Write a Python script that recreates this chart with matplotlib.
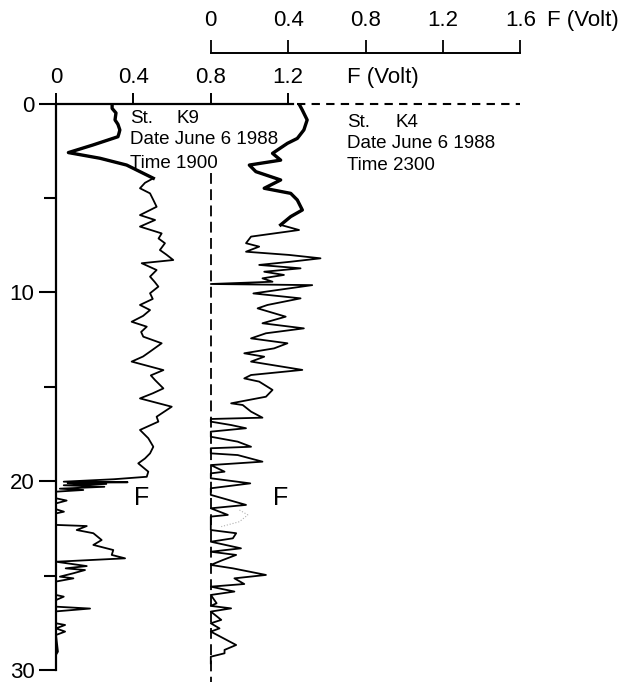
import matplotlib
matplotlib.use("Agg")
import matplotlib.pyplot as plt

plt.rcParams['font.family'] = ['Liberation Sans', 'DejaVu Sans']

# Station K9 profile (depth in m, fluorescence in volt)
k9_depth = [0.1, 0.26, 0.5, 0.87, 1.1, 1.4, 1.6, 1.76, 2.2, 2.6,
            2.9, 3.26, 3.61, 3.96, 4.2, 4.49, 4.76, 5.11, 5.47, 5.91,
            6.17, 6.52, 6.88, 7.15, 7.4, 7.76, 8.0, 8.29, 8.46, 8.82,
            9.17, 9.45, 9.7, 10.05, 10.35, 10.67, 10.94, 11.25, 11.56, 11.82,
            12.1, 12.35, 12.7, 13.14, 13.4, 13.67, 14.12, 14.4, 14.65, 15.09,
            15.35, 15.62, 16.06, 16.59, 16.85, 17.29, 17.73, 18.18, 18.53, 18.8,
            19.06, 19.5, 19.77, 19.9, 20.03, 20.06, 20.1, 20.15, 20.22, 20.3,
            20.4, 20.47, 20.56, 20.91, 21.03, 21.18, 21.49, 21.62, 21.71, 22.32,
            22.38, 22.59, 22.76, 23.12, 23.38, 23.65, 23.91, 24.09, 24.27, 24.5,
            24.62, 24.71, 24.88, 25.06, 25.15, 25.32, 26.03, 26.12, 26.3, 26.65,
            26.75, 26.9, 27.53, 27.62, 27.8, 27.97, 28.15, 29.03, 29.2, 29.9]
k9_f = [0.29, 0.29, 0.31, 0.305, 0.32, 0.33, 0.325, 0.32, 0.19, 0.064,
        0.227, 0.365, 0.434, 0.503, 0.46, 0.434, 0.486, 0.503, 0.52, 0.434,
        0.512, 0.434, 0.546, 0.53, 0.563, 0.537, 0.57, 0.606, 0.443, 0.52,
        0.486, 0.51, 0.529, 0.486, 0.5, 0.434, 0.486, 0.45, 0.391, 0.469,
        0.44, 0.451, 0.546, 0.486, 0.45, 0.391, 0.555, 0.49, 0.512, 0.555,
        0.5, 0.434, 0.598, 0.52, 0.529, 0.434, 0.477, 0.503, 0.486, 0.46,
        0.425, 0.477, 0.469, 0.30, 0.04, 0.37, 0.06, 0.26, 0.04, 0.25,
        0.02, 0.141, 0.0, 0.0, 0.055, 0.0, 0.0, 0.041, 0.0, 0.0,
        0.159, 0.107, 0.193, 0.236, 0.193, 0.296, 0.288, 0.357, 0.0, 0.159,
        0.05, 0.15, 0.09, 0.02, 0.09, 0.0, 0.0, 0.04, 0.0, 0.0,
        0.176, 0.0, 0.0, 0.047, 0.0, 0.047, 0.0, 0.01, 0.0, 0.0]

# Station K4 profile, read against the upper scale
k4_depth = [0.1, 0.35, 0.87, 1.4, 1.85, 2.11, 2.64, 3.0, 3.26, 3.61,
            4.05, 4.49, 4.76, 5.11, 5.64, 5.99, 6.43, 6.7, 7.05, 7.4,
            7.58, 7.85, 8.02, 8.2, 8.38, 8.55, 8.73, 8.91, 9.08, 9.26,
            9.44, 9.56, 9.62, 9.88, 10.06, 10.32, 10.67, 10.85, 11.29, 11.64,
            11.91, 12.17, 12.44, 12.7, 12.97, 13.23, 13.41, 13.67, 14.11, 14.38,
            14.56, 14.73, 15.17, 15.53, 15.88, 15.97, 16.32, 16.64, 16.71, 16.85,
            17.03, 17.2, 17.38, 17.65, 17.91, 18.18, 18.26, 18.53, 18.62, 18.97,
            19.15, 19.5, 19.59, 19.85, 20.12, 20.38, 20.73, 21.26, 21.44, 21.79,
            21.88, 22.59, 22.76, 23.03, 23.21, 23.56, 23.74, 23.91, 24.18, 24.44,
            24.62, 24.97, 25.15, 25.45, 25.59, 25.85, 26.03, 26.47, 26.61, 26.74,
            26.91, 27.35, 27.53, 27.8, 27.97, 28.68, 28.94, 29.12, 29.3, 29.65]
k4_f = [0.46, 0.473, 0.498, 0.481, 0.447, 0.396, 0.319, 0.361, 0.199, 0.233,
        0.361, 0.276, 0.413, 0.447, 0.473, 0.413, 0.361, 0.456, 0.208, 0.182,
        0.25, 0.182, 0.404, 0.567, 0.413, 0.25, 0.464, 0.276, 0.378, 0.267,
        0.319, 0.0, 0.524, 0.344, 0.22, 0.464, 0.293, 0.242, 0.387, 0.267,
        0.481, 0.285, 0.208, 0.396, 0.327, 0.173, 0.276, 0.208, 0.473, 0.208,
        0.173, 0.25, 0.319, 0.285, 0.105, 0.165, 0.208, 0.267, 0.0, 0.0,
        0.105, 0.182, 0.0, 0.0, 0.139, 0.208, 0.0, 0.0, 0.139, 0.267,
        0.0, 0.071, 0.0, 0.0, 0.204, 0.0, 0.0, 0.182, 0.0, 0.088,
        0.0, 0.0, 0.131, 0.114, 0.0, 0.156, 0.0, 0.131, 0.062, 0.0,
        0.114, 0.285, 0.122, 0.173, 0.0, 0.122, 0.0, 0.03, 0.0, 0.105,
        0.0, 0.054, 0.0, 0.045, 0.0, 0.131, 0.071, 0.071, 0.0, 0.0]

# faint trace near 22 m on the K4 profile
k4_faint_depth = [21.53, 21.79, 22.15, 22.41]
k4_faint_f = [0.148, 0.191, 0.148, 0.054]

k9_ticks = [0, 0.4, 0.8, 1.2]
k4_ticks = [0, 0.4, 0.8, 1.2, 1.6]
depth_major = [0, 10, 20, 30]
depth_minor = [5, 15, 25]
k4_offset = 0.8  # zero of the K4 scale on the K9 scale

W, H = 643, 682
px_per_volt = 193.5
ax_left, ax_right, ax_top = 56, 630, 103.5
ax_h = H - ax_top

fig = plt.figure(figsize=(W / 100, H / 100), dpi=100)
ax = fig.add_axes([ax_left / W, 0, (ax_right - ax_left) / W, ax_h / H])
xmax = (ax_right - ax_left) / px_per_volt
ax.set_xlim(0, xmax)
ax.set_ylim(30.64, 0)

# second axes for K4, shifted scale on top (twiny must come before tick_top)
ax4 = ax.twiny()
ax4.set_xlim(-k4_offset, xmax - k4_offset)
for s in ['bottom', 'right', 'left']:
    ax4.spines[s].set_visible(False)
ax4.spines['top'].set_position(('axes', 1 + 50.2 / ax_h))
ax4.spines['top'].set_bounds(0, 1.6)
ax4.spines['top'].set_linewidth(1.4)
ax4.set_xticks(k4_ticks)
ax4.set_xticklabels(['0', '0.4', '0.8', '1.2', '1.6'])
ax4.tick_params(axis='x', direction='out', length=9.5, width=1.3, pad=6.5, labelsize=16)

for s in ['bottom', 'right']:
    ax.spines[s].set_visible(False)
ax.spines['top'].set_bounds(0, 1.225)
ax.spines['left'].set_bounds(0, 30)
ax.spines['top'].set_linewidth(1.6)
ax.spines['left'].set_linewidth(1.6)

ax.xaxis.tick_top()
ax.set_xticks(k9_ticks)
ax.set_xticklabels(['0', '0.4', '0.8', '1.2'])
ax.tick_params(axis='x', which='both', top=True, bottom=False, labeltop=True, labelbottom=False,
               direction='out', length=8, width=1.4, pad=3.5, labelsize=16)
ax.set_yticks(depth_major)
ax.set_yticks(depth_minor, minor=True)
ax.tick_params(axis='y', which='major', length=12, width=1.5, pad=3.5, labelsize=16)
ax.tick_params(axis='y', which='minor', length=8.5, width=1.5)

ax.plot(k9_f, k9_depth, color='black', lw=1.3)
ax4.plot(k4_f, k4_depth, color='black', lw=1.3)
# the near-surface parts of both traces are printed heavier
ax.plot(k9_f[:14], k9_depth[:14], color='black', lw=2.4)
ax4.plot(k4_f[:17], k4_depth[:17], color='black', lw=2.4)
ax4.plot(k4_faint_f, k4_faint_depth, color='#b0b0b0', lw=0.8, ls=':')

# dashed reference lines
ax.hlines(0, 1.245, 2.40, colors='black', linestyles=(0, (4, 3)), lw=1.5, clip_on=False)
ax4.vlines(0, 3.7, 30.64, colors='black', linestyles=(0, (6, 3)), lw=1.3)

txt = dict(fontsize=13.5, va='center')
ax.text(0.382, 0.82, 'St.', **txt)
ax.text(0.625, 0.82, 'K9', **txt)
ax.text(0.382, 1.93, 'Date June 6 1988', **txt)
ax.text(0.382, 3.17, 'Time 1900', **txt)
ax.text(1.504, 1.02, 'St.', **txt)
ax.text(1.752, 1.02, 'K4', **txt)
ax.text(1.504, 2.11, 'Date June 6 1988', **txt)
ax.text(1.504, 3.26, 'Time 2300', **txt)

ax.text(0.444, 20.9, 'F', fontsize=18, ha='center', va='center')
ax.text(1.163, 20.9, 'F', fontsize=18, ha='center', va='center')
ax.text(1.504, -1.4, 'F (Volt)', fontsize=16, va='center')
ax.text(2.537, -4.42, 'F (Volt)', fontsize=16, va='center')

plt.savefig('out.png', dpi=100)
